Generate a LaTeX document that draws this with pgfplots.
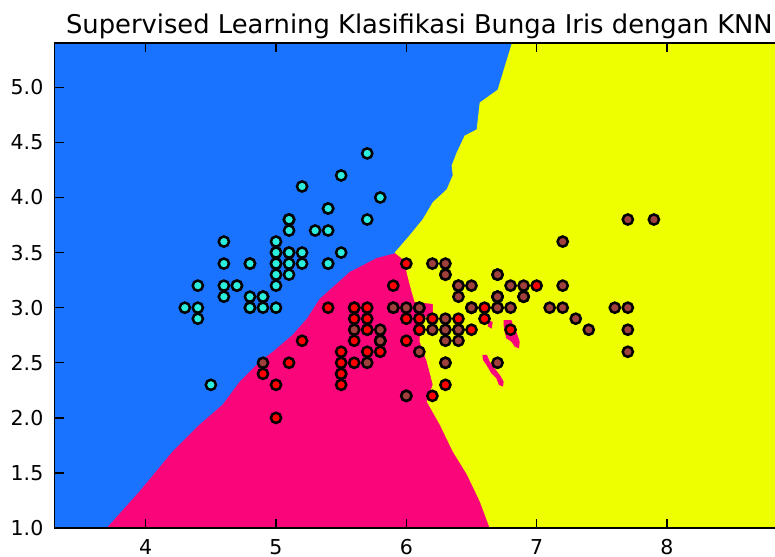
\documentclass[border=0pt]{standalone}
\usepackage{pgfplots}
\pgfplotsset{compat=1.18}
\usepackage{fontspec}
\setmainfont{DejaVu Sans}
\definecolor{bgblue}{HTML}{1A73FF}
\definecolor{bgpink}{HTML}{FA057A}
\definecolor{bgyellow}{HTML}{EEFF00}
\definecolor{ptcyan}{HTML}{2CEEDC}
\definecolor{ptred}{HTML}{FF0000}
\definecolor{ptbrown}{HTML}{A0403C}
\begin{document}
\begin{tikzpicture}
\begin{axis}[
  scale only axis, width=729.7bp, height=484.9bp,
  xmin=3.3, xmax=8.9, ymin=1.0, ymax=5.4,
  axis background/.style={fill=bgblue},
  axis on top,
  xtick={4,5,6,7,8}, ytick={1.0,1.5,2.0,2.5,3.0,3.5,4.0,4.5,5.0},
  tick align=inside, major tick length=9bp,
  tick style={black, line width=1.4bp},
  axis line style={black, line width=1.6bp},
  tick label style={font=\fontsize{20.5bp}{24bp}\selectfont},
  /pgf/number format/assume math mode=true,
  yticklabel style={/pgf/number format/fixed, /pgf/number format/fixed zerofill, /pgf/number format/precision=1, anchor=east, inner sep=0pt, xshift=-11bp},
  xticklabel style={anchor=north, inner sep=0pt, yshift=-11.2bp},
  title={Supervised Learning Klasifikasi Bunga Iris dengan KNN},
  every axis title/.style={at={(0.5,1)}, anchor=base, yshift=9.7bp, inner sep=0pt, font=\fontsize{25.8bp}{30bp}\selectfont},
]
% pink region (extends under yellow)
\addplot[fill=bgpink, draw=none] coordinates {
(3.70,1.0) (3.954,1.335) (4.207,1.696) (4.414,1.940) (4.591,2.121) (4.721,2.329)
(4.875,2.510) (4.975,2.600) (5.128,2.754) (5.236,2.899) (5.335,3.080) (5.566,3.324)
(5.773,3.450) (5.934,3.50) (8.9,3.50) (8.9,1.0)} -- cycle;
% yellow region
\addplot[fill=bgyellow, draw=none] coordinates {
(6.81,5.4) (6.771,5.25) (6.701,4.978) (6.563,4.861) (6.540,4.617) (6.448,4.562)
(6.387,4.409) (6.348,4.291) (6.356,4.201) (6.310,4.074) (6.203,3.957) (6.126,3.803)
(6.026,3.658) (5.934,3.532) (5.91,3.50) (5.98,3.432) (6.011,3.278) (6.041,3.143)
(6.064,3.052) (6.203,3.034) (6.203,2.944) (6.103,2.890) (6.103,2.691) (6.157,2.510)
(6.203,2.302) (6.157,2.148) (6.256,1.940) (6.356,1.696) (6.464,1.488) (6.563,1.244)
(6.640,1.0) (8.9,1.0) (8.9,5.4)} -- cycle;
% pink islands
\addplot[fill=bgpink, draw=none] coordinates {
(6.747,2.887) (6.807,2.887) (6.819,2.842) (6.845,2.781) (6.870,2.691) (6.865,2.630)
(6.832,2.646) (6.807,2.691) (6.768,2.721) (6.755,2.781) (6.747,2.842)} -- cycle;
\addplot[fill=bgpink, draw=none] coordinates {
(6.584,2.571) (6.619,2.571) (6.640,2.510) (6.678,2.449) (6.717,2.390) (6.747,2.329)
(6.742,2.284) (6.711,2.299) (6.691,2.359) (6.653,2.404) (6.615,2.480) (6.589,2.525)} -- cycle;
\addplot[fill=bgpink, draw=none] coordinates {
(6.625,2.89) (6.663,2.87) (6.655,2.81) (6.625,2.83)} -- cycle;
% setosa
\addplot[only marks, mark=*, mark size=5.1bp, mark options={draw=black, line width=2.5bp, fill=ptcyan}] coordinates {
(5.1,3.5)(4.9,3.0)(4.7,3.2)(4.6,3.1)(5.0,3.6)(5.4,3.9)(4.6,3.4)(5.0,3.4)(4.4,2.9)(4.9,3.1)
(5.4,3.7)(4.8,3.4)(4.8,3.0)(4.3,3.0)(5.8,4.0)(5.7,4.4)(5.4,3.9)(5.1,3.5)(5.7,3.8)(5.1,3.8)
(5.4,3.4)(5.1,3.7)(4.6,3.6)(5.1,3.3)(4.8,3.4)(5.0,3.0)(5.0,3.4)(5.2,3.5)(5.2,3.4)(4.7,3.2)
(4.8,3.1)(5.4,3.4)(5.2,4.1)(5.5,4.2)(4.9,3.1)(5.0,3.2)(5.5,3.5)(4.9,3.1)(4.4,3.0)(5.1,3.4)
(5.0,3.5)(4.5,2.3)(4.4,3.2)(5.0,3.5)(5.1,3.8)(4.8,3.0)(5.1,3.8)(4.6,3.2)(5.3,3.7)(5.0,3.3)};
% versicolor
\addplot[only marks, mark=*, mark size=5.1bp, mark options={draw=black, line width=2.5bp, fill=ptred}] coordinates {
(7.0,3.2)(6.4,3.2)(6.9,3.1)(5.5,2.3)(6.5,2.8)(5.7,2.8)(6.3,3.3)(4.9,2.4)(6.6,2.9)(5.2,2.7)
(5.0,2.0)(5.9,3.0)(6.0,2.2)(6.1,2.9)(5.6,2.9)(6.7,3.1)(5.6,3.0)(5.8,2.7)(6.2,2.2)(5.6,2.5)
(5.9,3.2)(6.1,2.8)(6.3,2.5)(6.1,2.8)(6.4,2.9)(6.6,3.0)(6.8,2.8)(6.7,3.0)(6.0,2.9)(5.7,2.6)
(5.5,2.4)(5.5,2.4)(5.8,2.7)(6.0,2.7)(5.4,3.0)(6.0,3.4)(6.7,3.1)(6.3,2.3)(5.6,3.0)(5.5,2.5)
(5.5,2.6)(6.1,3.0)(5.8,2.6)(5.0,2.3)(5.6,2.7)(5.7,3.0)(5.7,2.9)(6.2,2.9)(5.1,2.5)(5.7,2.8)};
% virginica
\addplot[only marks, mark=*, mark size=5.1bp, mark options={draw=black, line width=2.5bp, fill=ptbrown}] coordinates {
(6.3,3.3)(5.8,2.7)(7.1,3.0)(6.3,2.9)(6.5,3.0)(7.6,3.0)(4.9,2.5)(7.3,2.9)(6.7,2.5)(7.2,3.6)
(6.5,3.2)(6.4,2.7)(6.8,3.0)(5.7,2.5)(5.8,2.8)(6.4,3.2)(6.5,3.0)(7.7,3.8)(7.7,2.6)(6.0,2.2)
(6.9,3.2)(5.6,2.8)(7.7,2.8)(6.3,2.7)(6.7,3.3)(7.2,3.2)(6.2,2.8)(6.1,3.0)(6.4,2.8)(7.2,3.0)
(7.4,2.8)(7.9,3.8)(6.4,2.8)(6.3,2.8)(6.1,2.6)(7.7,3.0)(6.3,3.4)(6.4,3.1)(6.0,3.0)(6.9,3.1)
(6.7,3.1)(6.9,3.1)(5.8,2.7)(6.8,3.2)(6.7,3.3)(6.7,3.0)(6.3,2.5)(6.5,3.0)(6.2,3.4)(5.9,3.0)};
\coordinate (SW) at (rel axis cs:0,0);
\end{axis}
\pgfresetboundingbox
\path[use as bounding box] ([shift={(-54.5bp,-28bp)}]SW) rectangle ([shift={(720.5bp,528.1bp)}]SW);
\end{tikzpicture}
\end{document}
